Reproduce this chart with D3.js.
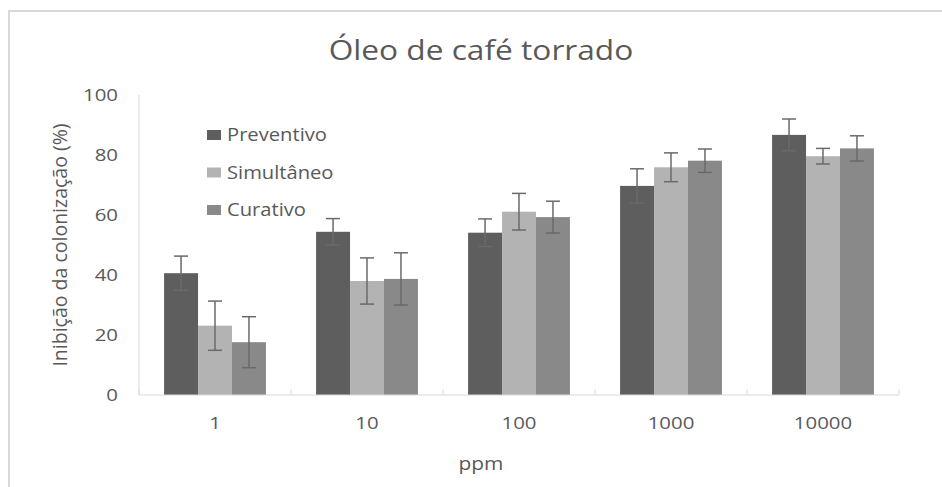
<!DOCTYPE html>
<html>
<head>
<meta charset="utf-8">
<script src="https://cdn.jsdelivr.net/npm/d3@7"></script>
<style>
  body { margin: 0; background: #fff; }
  text { font-family: "Open Sans", sans-serif; fill: #595959; }
</style>
</head>
<body>
<div id="chart"></div>
<script>
// dados
const categories = ["1", "10", "100", "1000", "10000"];
const seriesNames = ["Preventivo", "Simultâneo", "Curativo"];
const preventivo = [40.6, 54.4, 54.1, 69.7, 86.7];
const preventivoErr = [5.7, 4.4, 4.6, 5.7, 5.3];
const simultaneo = [23.1, 38.0, 61.1, 75.9, 79.6];
const simultaneoErr = [8.2, 7.7, 6.1, 4.8, 2.6];
const curativo = [17.6, 38.7, 59.3, 78.1, 82.2];
const curativoErr = [8.5, 8.7, 5.3, 3.9, 4.2];
const yTicks = [0, 20, 40, 60, 80, 100];

const seriesValues = [preventivo, simultaneo, curativo];
const seriesErrs = [preventivoErr, simultaneoErr, curativoErr];
const colors = ["#5e5e5e", "#b3b3b3", "#898989"];

const width = 942, height = 487;
const margin = { top: 95, right: 43, bottom: 92, left: 139 };

const svg = d3.select("#chart").append("svg")
    .attr("width", width)
    .attr("height", height);

// o original está esticado na horizontal: alarga o texto
function stretch(sel, k) {
    sel.each(function () {
        const w = this.getComputedTextLength();
        d3.select(this)
            .attr("textLength", w * k)
            .attr("lengthAdjust", "spacingAndGlyphs");
    });
}

// moldura do gráfico (cortada à direita e em baixo)
svg.append("rect")
    .attr("x", 9).attr("y", 11)
    .attr("width", width + 20).attr("height", height + 20)
    .attr("fill", "none")
    .attr("stroke", "#d9d9d9")
    .attr("stroke-width", 2);

const x0 = d3.scaleBand()
    .domain(categories)
    .range([margin.left, width - margin.right]);

const groupWidth = x0.bandwidth() * 0.67;
const x1 = d3.scaleBand()
    .domain(seriesNames)
    .range([0, groupWidth]);

const y = d3.scaleLinear()
    .domain([0, 100])
    .range([height - margin.bottom, margin.top]);

// eixo y
svg.append("line")
    .attr("x1", margin.left).attr("x2", margin.left)
    .attr("y1", y(100)).attr("y2", y(0))
    .attr("stroke", "#d9d9d9");

svg.selectAll(".ytick")
    .data(yTicks)
    .join("text")
    .attr("x", margin.left - 21)
    .attr("y", d => y(d))
    .attr("dy", "0.35em")
    .attr("text-anchor", "end")
    .attr("font-size", 17)
    .text(d => d)
    .call(stretch, 1.2);

// barras
const groups = svg.selectAll(".grp")
    .data(categories)
    .join("g")
    .attr("transform", c => `translate(${x0(c) + (x0.bandwidth() - groupWidth) / 2},0)`);

seriesNames.forEach((s, si) => {
    groups.append("rect")
        .attr("x", x1(s))
        .attr("width", x1.bandwidth())
        .attr("y", (c, i) => y(seriesValues[si][i]))
        .attr("height", (c, i) => y(0) - y(seriesValues[si][i]))
        .attr("fill", colors[si]);
});

// barras de erro
seriesNames.forEach((s, si) => {
    groups.each(function (c, i) {
        const g = d3.select(this);
        const cx = x1(s) + x1.bandwidth() / 2;
        const v = seriesValues[si][i], e = seriesErrs[si][i];
        const eb = g.append("g").attr("stroke", "#6a6a6a").attr("stroke-width", 1.5);
        eb.append("line").attr("x1", cx).attr("x2", cx).attr("y1", y(v + e)).attr("y2", y(v - e));
        eb.append("line").attr("x1", cx - 7).attr("x2", cx + 7).attr("y1", y(v + e)).attr("y2", y(v + e));
        eb.append("line").attr("x1", cx - 7).attr("x2", cx + 7).attr("y1", y(v - e)).attr("y2", y(v - e));
    });
});

// eixo x
svg.append("line")
    .attr("x1", margin.left).attr("x2", width - margin.right)
    .attr("y1", y(0)).attr("y2", y(0))
    .attr("stroke", "#d9d9d9");

const bounds = categories.map(c => x0(c)).concat([x0.range()[1]]);
svg.selectAll(".xtickmark")
    .data(bounds)
    .join("line")
    .attr("x1", d => d).attr("x2", d => d)
    .attr("y1", y(0)).attr("y2", y(0) - 6)
    .attr("stroke", "#d9d9d9");

svg.selectAll(".xtick")
    .data(categories)
    .join("text")
    .attr("x", c => x0(c) + x0.bandwidth() / 2)
    .attr("y", 423)
    .attr("dy", "0.35em")
    .attr("text-anchor", "middle")
    .attr("font-size", 17)
    .text(c => c)
    .call(stretch, 1.2);

// títulos
svg.append("text")
    .attr("x", 481).attr("y", 60)
    .attr("text-anchor", "middle")
    .attr("font-size", 28)
    .text("Óleo de café torrado")
    .call(stretch, 1.13);

svg.append("text")
    .attr("x", 481).attr("y", 463)
    .attr("dy", "0.35em")
    .attr("text-anchor", "middle")
    .attr("font-size", 19)
    .text("ppm")
    .call(stretch, 1.1);

svg.append("text")
    .attr("transform", `translate(60,245) rotate(-90)`)
    .attr("dy", "0.35em")
    .attr("text-anchor", "middle")
    .attr("font-size", 19.5)
    .text("Inibição da colonização (%)");

// legenda
const legend = svg.selectAll(".leg")
    .data(seriesNames)
    .join("g")
    .attr("transform", (d, i) => `translate(207,${135 + i * 37.5})`);

legend.append("rect")
    .attr("x", 0).attr("y", -5)
    .attr("width", 14).attr("height", 10)
    .attr("fill", (d, i) => colors[i]);

legend.append("text")
    .attr("x", 20)
    .attr("dy", "0.35em")
    .attr("font-size", 18)
    .text(d => d)
    .call(stretch, 1.12);
</script>
</body>
</html>
